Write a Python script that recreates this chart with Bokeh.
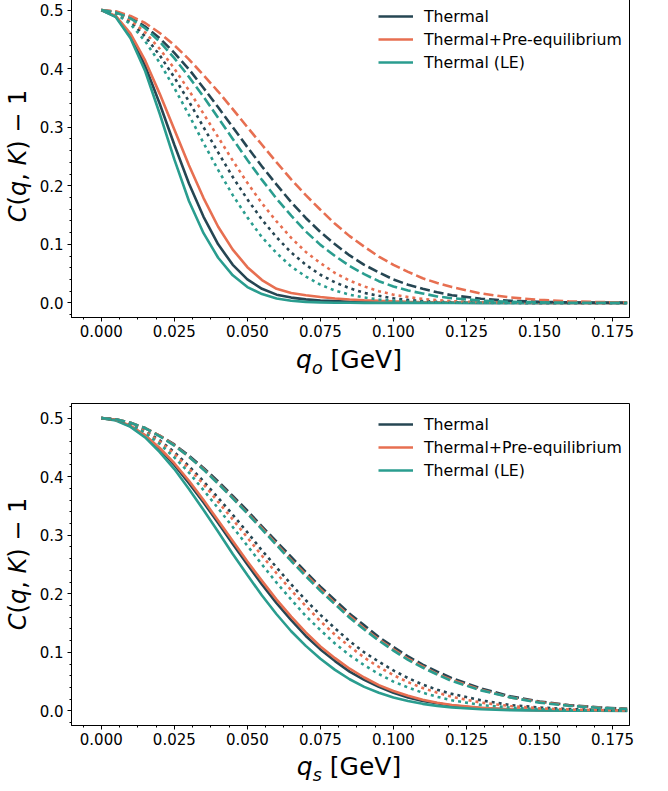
from bokeh.plotting import figure
from bokeh.layouts import column, row
from bokeh.models import FixedTicker, NumeralTickFormatter, Range1d, Div
from bokeh.embed import file_html
from bokeh.resources import INLINE

# ---------------- data ----------------
q = [0.000, 0.005, 0.010, 0.015, 0.020, 0.025, 0.030, 0.035, 0.040, 0.045,
     0.050, 0.055, 0.060, 0.065, 0.070, 0.075, 0.080, 0.085, 0.090, 0.095,
     0.100, 0.105, 0.110, 0.115, 0.120, 0.130, 0.140, 0.150, 0.160, 0.170, 0.180]

# top panel (q_o)
top_thermal_solid = [0.5, 0.489, 0.455, 0.405, 0.340, 0.270, 0.204, 0.147, 0.100, 0.065,
                     0.040, 0.024, 0.014, 0.009, 0.006, 0.004, 0.003, 0.002, 0.0015, 0.001,
                     0.0007, 0.0005, 0.0003, 0.0002, 0.0001, 0, 0, 0, 0, 0, 0]
top_preeq_solid = [0.5, 0.490, 0.460, 0.414, 0.357, 0.296, 0.235, 0.179, 0.130, 0.091,
                   0.061, 0.039, 0.024, 0.017, 0.013, 0.010, 0.0075, 0.0058, 0.0045, 0.0035,
                   0.0027, 0.002, 0.0015, 0.0011, 0.0008, 0.0004, 0.0002, 0, 0, 0, 0]
top_le_solid = [0.5, 0.488, 0.452, 0.396, 0.323, 0.245, 0.174, 0.119, 0.077, 0.047,
                0.027, 0.015, 0.0075, 0.0037, 0.0017, 0.0008, 0.0003, 0.0001, 0, 0,
                0, 0, 0, 0, 0, 0, 0, 0, 0, 0, 0]
top_thermal_dot = [0.5, 0.495, 0.480, 0.455, 0.423, 0.385, 0.344, 0.300, 0.257, 0.215,
                   0.177, 0.142, 0.112, 0.086, 0.065, 0.048, 0.035, 0.025, 0.017, 0.012,
                   0.0078, 0.0051, 0.0032, 0.002, 0.0012, 0.0004, 0.0001, 0, 0, 0, 0]
top_preeq_dot = [0.5, 0.496, 0.483, 0.462, 0.434, 0.400, 0.363, 0.323, 0.283, 0.243,
                 0.205, 0.170, 0.139, 0.111, 0.087, 0.068, 0.051, 0.038, 0.028, 0.020,
                 0.014, 0.0099, 0.0067, 0.0045, 0.003, 0.0012, 0.0005, 0.0002, 0.0001, 0, 0]
top_le_dot = [0.5, 0.494, 0.476, 0.447, 0.410, 0.367, 0.321, 0.273, 0.227, 0.184,
              0.146, 0.112, 0.085, 0.062, 0.045, 0.031, 0.021, 0.014, 0.0092, 0.0058,
              0.0036, 0.0022, 0.0013, 0.0007, 0.0004, 0.0001, 0, 0, 0, 0, 0]
top_thermal_dash = [0.5, 0.497, 0.488, 0.472, 0.452, 0.427, 0.399, 0.367, 0.334, 0.300,
                    0.266, 0.233, 0.202, 0.172, 0.145, 0.121, 0.100, 0.081, 0.065, 0.052,
                    0.040, 0.031, 0.024, 0.018, 0.013, 0.0071, 0.0036, 0.0017, 0.0008, 0.0003, 0.0001]
top_preeq_dash = [0.5, 0.498, 0.490, 0.478, 0.461, 0.440, 0.416, 0.389, 0.361, 0.331,
                  0.300, 0.270, 0.240, 0.211, 0.184, 0.159, 0.135, 0.114, 0.096, 0.079,
                  0.065, 0.053, 0.042, 0.034, 0.027, 0.016, 0.0092, 0.0051, 0.0027, 0.0014, 0.0007]
top_le_dash = [0.5, 0.496, 0.486, 0.469, 0.446, 0.418, 0.386, 0.352, 0.316, 0.280,
               0.244, 0.210, 0.178, 0.149, 0.122, 0.099, 0.080, 0.063, 0.049, 0.037,
               0.028, 0.021, 0.016, 0.011, 0.008, 0.0039, 0.0018, 0.0008, 0.0003, 0.0001, 0]

# bottom panel (q_s)
bot_thermal_solid = [0.5, 0.497, 0.486, 0.470, 0.447, 0.420, 0.389, 0.356, 0.321, 0.285,
                     0.250, 0.216, 0.184, 0.155, 0.128, 0.105, 0.085, 0.067, 0.053, 0.041,
                     0.031, 0.023, 0.017, 0.013, 0.0092, 0.0046, 0.0022, 0.001, 0.0004, 0.0002, 0.0001]
bot_preeq_solid = [0.5, 0.497, 0.487, 0.471, 0.449, 0.423, 0.393, 0.360, 0.325, 0.290,
                   0.255, 0.222, 0.190, 0.161, 0.134, 0.110, 0.090, 0.072, 0.057, 0.044,
                   0.034, 0.026, 0.019, 0.014, 0.010, 0.0053, 0.0026, 0.0012, 0.0005, 0.0002, 0.0001]
bot_le_solid = [0.5, 0.496, 0.485, 0.467, 0.442, 0.413, 0.379, 0.343, 0.306, 0.268,
                0.232, 0.197, 0.165, 0.136, 0.111, 0.089, 0.070, 0.054, 0.041, 0.031,
                0.023, 0.017, 0.012, 0.0085, 0.0059, 0.0028, 0.0012, 0.0005, 0.0002, 0.0001, 0]
bot_thermal_dot = [0.5, 0.498, 0.490, 0.478, 0.462, 0.442, 0.418, 0.392, 0.364, 0.335,
                   0.305, 0.274, 0.245, 0.216, 0.189, 0.164, 0.141, 0.119, 0.100, 0.084,
                   0.069, 0.056, 0.045, 0.036, 0.029, 0.018, 0.010, 0.0058, 0.0031, 0.0016, 0.0008]
bot_preeq_dot = [0.5, 0.497, 0.490, 0.477, 0.460, 0.439, 0.414, 0.387, 0.357, 0.327,
                 0.296, 0.265, 0.235, 0.206, 0.179, 0.153, 0.130, 0.110, 0.091, 0.075,
                 0.061, 0.049, 0.039, 0.031, 0.024, 0.014, 0.0082, 0.0044, 0.0023, 0.0012, 0.0006]
bot_le_dot = [0.5, 0.497, 0.489, 0.475, 0.456, 0.433, 0.407, 0.377, 0.346, 0.314,
              0.282, 0.250, 0.219, 0.190, 0.162, 0.138, 0.115, 0.095, 0.078, 0.063,
              0.050, 0.040, 0.031, 0.024, 0.018, 0.010, 0.0056, 0.0029, 0.0014, 0.0007, 0.0003]
bot_thermal_dash = [0.5, 0.498, 0.492, 0.483, 0.470, 0.455, 0.436, 0.415, 0.392, 0.367,
                    0.342, 0.315, 0.289, 0.263, 0.237, 0.212, 0.189, 0.166, 0.146, 0.126,
                    0.109, 0.093, 0.079, 0.067, 0.056, 0.038, 0.025, 0.016, 0.010, 0.0061, 0.0036]
bot_preeq_dash = [0.5, 0.498, 0.492, 0.483, 0.470, 0.454, 0.434, 0.413, 0.389, 0.364,
                  0.338, 0.312, 0.285, 0.258, 0.233, 0.208, 0.184, 0.162, 0.141, 0.122,
                  0.105, 0.089, 0.076, 0.063, 0.053, 0.036, 0.023, 0.015, 0.0092, 0.0055, 0.0032]
bot_le_dash = [0.5, 0.498, 0.492, 0.483, 0.469, 0.453, 0.434, 0.412, 0.388, 0.363,
               0.337, 0.310, 0.283, 0.256, 0.230, 0.205, 0.182, 0.159, 0.139, 0.120,
               0.103, 0.087, 0.074, 0.062, 0.051, 0.035, 0.023, 0.014, 0.0087, 0.0052, 0.003]

series_names = ["Thermal", "Thermal+Pre-equilibrium", "Thermal (LE)"]
x_ticks = [0.0, 0.025, 0.05, 0.075, 0.1, 0.125, 0.15, 0.175]
y_ticks = [0.0, 0.1, 0.2, 0.3, 0.4, 0.5]

# ---------------- style ----------------
COLORS = ["#264653", "#e76f51", "#2a9d8f"]
FONT = "DejaVu Sans"
X0, X1 = -0.0102, 0.1808
Y0, Y1 = -0.025, 0.525
FRAME_W, FRAME_H = 560, 322
YLAB_W = 36
FIG_W = 605
BORDER_L = 33
BORDER_R = FIG_W - BORDER_L - FRAME_W


def make_panel(groups, top_border, bottom_border):
    height = top_border + FRAME_H + bottom_border
    p = figure(width=FIG_W, height=height,
               x_range=Range1d(X0, X1), y_range=Range1d(Y0, Y1),
               output_backend="svg", toolbar_location=None,
               min_border_left=BORDER_L, min_border_right=BORDER_R,
               min_border_top=top_border, min_border_bottom=bottom_border)
    p.xgrid.visible = False
    p.ygrid.visible = False
    p.outline_line_color = "black"
    p.outline_line_alpha = 1
    p.outline_line_width = 1
    p.background_fill_color = "white"
    p.border_fill_color = "white"

    styles = [("solid", "solid"), ("dotted", "3 4"), ("dashed", "10 4")]
    for (sname, dash), series in zip(styles, groups):
        for i, ys in enumerate(series):
            kw = {}
            if sname == "solid":
                kw["legend_label"] = series_names[i]
            p.line(q, ys, line_color=COLORS[i], line_width=2.6,
                   line_dash=dash, **kw)

    minor_x = [-0.00625 + 0.00625 * k for k in range(31)]
    minor_y = [-0.02 + 0.02 * k for k in range(28)]
    p.xaxis.ticker = FixedTicker(ticks=x_ticks, minor_ticks=minor_x)
    p.yaxis.ticker = FixedTicker(ticks=y_ticks, minor_ticks=minor_y)
    p.xaxis.formatter = NumeralTickFormatter(format="0.000")
    p.yaxis.formatter = NumeralTickFormatter(format="0.0")
    for ax in (p.xaxis, p.yaxis):
        ax.axis_line_color = "black"
        ax.major_tick_line_color = "black"
        ax.minor_tick_line_color = "black"
        ax.major_tick_out = 4
        ax.major_tick_in = 0
        ax.minor_tick_out = 2
        ax.minor_tick_in = 0
        ax.major_label_text_font = FONT
        ax.major_label_text_font_size = "15px"
        ax.major_label_text_color = "black"
    p.xaxis.major_label_standoff = 3
    p.yaxis.major_label_standoff = 4

    lg = p.legend[0]
    lg.location = (307, FRAME_H - 11 - 66)
    lg.border_line_alpha = 0
    lg.background_fill_alpha = 0
    lg.padding = 0
    lg.margin = 0
    lg.spacing = 3
    lg.glyph_width = 35
    lg.glyph_height = 20
    lg.label_height = 20
    lg.label_standoff = 11
    lg.label_text_font = FONT
    lg.label_text_font_size = "15.75px"
    lg.label_text_color = "black"
    return p


def ylabel_div(fig_height, top_border):
    cy = top_border + FRAME_H / 2
    html = (
        f'<div style="position:relative;width:{YLAB_W}px;height:{fig_height}px;">'
        f'<div style="position:absolute;left:18px;top:{cy}px;'
        f'transform:translate(-50%,-50%) rotate(-90deg);white-space:nowrap;'
        f"font-family:'DejaVu Sans';font-size:24px;line-height:1;color:#000;\">"
        '<i>C</i>(<i>q</i>, <i>K</i>)&nbsp;−&nbsp;1</div></div>'
    )
    return Div(text=html, width=YLAB_W, height=fig_height, margin=0)


def xlabel_div(height, sub, center_y):
    cx = YLAB_W + BORDER_L + FRAME_W / 2
    html = (
        f'<div style="position:relative;width:{YLAB_W + FIG_W}px;height:{height}px;">'
        f'<div style="position:absolute;left:{cx}px;top:{center_y}px;'
        f'transform:translate(-50%,-50%);white-space:nowrap;'
        f"font-family:'DejaVu Sans';font-size:25px;line-height:1;color:#000;\">"
        f'<i>q</i><i style="font-size:17.5px;position:relative;top:6px;">{sub}</i>'
        '&nbsp;[GeV]</div></div>'
    )
    return Div(text=html, width=YLAB_W + FIG_W, height=height, margin=0)


TOP_B1, BOT_B1 = 1, 26
TOP_B2, BOT_B2 = 4, 26

p_top = make_panel(
    ([top_thermal_solid, top_preeq_solid, top_le_solid],
     [top_thermal_dot, top_preeq_dot, top_le_dot],
     [top_thermal_dash, top_preeq_dash, top_le_dash]),
    TOP_B1, BOT_B1)
p_bot = make_panel(
    ([bot_thermal_solid, bot_preeq_solid, bot_le_solid],
     [bot_thermal_dot, bot_preeq_dot, bot_le_dot],
     [bot_thermal_dash, bot_preeq_dash, bot_le_dash]),
    TOP_B2, BOT_B2)

h1 = TOP_B1 + FRAME_H + BOT_B1
h2 = TOP_B2 + FRAME_H + BOT_B2

layout = column(
    row(ylabel_div(h1, TOP_B1), p_top, spacing=0),
    xlabel_div(56, "o", 16),
    row(ylabel_div(h2, TOP_B2), p_bot, spacing=0),
    xlabel_div(24, "s", 15),
    spacing=0,
    margin=(-6, 0, 0, 0),
)
open("out.html", "w").write(file_html(layout, INLINE))
